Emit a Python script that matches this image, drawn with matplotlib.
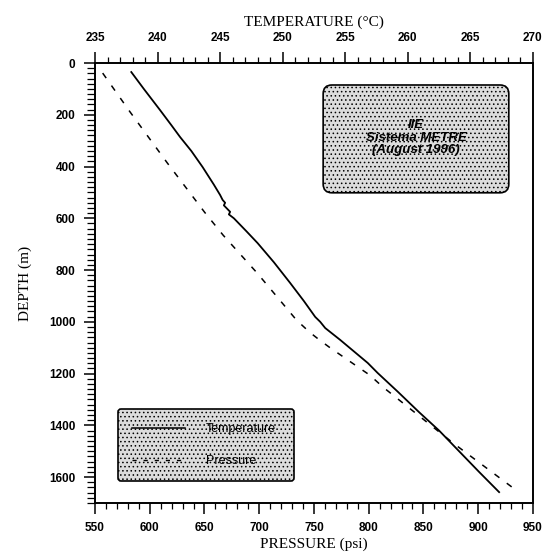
import matplotlib
matplotlib.use("Agg")
import matplotlib.pyplot as plt
from matplotlib.lines import Line2D
from matplotlib.patches import FancyBboxPatch
from matplotlib.ticker import MultipleLocator

# data (depth in m)
temp_depth = [35, 100, 182, 240, 286, 340, 402, 470, 510, 529, 540, 550, 560, 575,
              585, 600, 650, 696, 770, 850, 920, 981, 1000, 1024, 1070, 1159, 1198,
              1270, 1349, 1420, 1500, 1580, 1658]
temp_c = [237.9, 238.9, 240.2, 241.1, 241.8, 242.7, 243.6, 244.5, 245.0, 245.2, 245.4,
          245.3, 245.5, 245.8, 245.7, 246.1, 247.1, 248.0, 249.3, 250.6, 251.7, 252.6,
          253.0, 253.4, 254.6, 256.8, 257.6, 259.2, 260.9, 262.5, 264.1, 265.7, 267.3]

press_depth = [39, 189, 386, 576, 665, 811, 993, 1040, 1070, 1101, 1206, 1252, 1468, 1658]
press_psi = [557, 582, 616, 650, 667, 698, 734, 746, 755, 765, 801, 813, 877, 937]

plt.rcParams["hatch.linewidth"] = 0.6
plt.rcParams["hatch.color"] = "#555555"

label_font = {"family": "Liberation Serif", "size": 11}

fig = plt.figure(figsize=(5.46, 5.6), dpi=100)
ax = fig.add_axes([0.174, 0.1018, 0.802, 0.7857])
ax_t = ax.twiny()

# pressure on bottom axis
ax.plot(press_psi, press_depth, color="black", lw=1.1, linestyle=(0, (4, 6)))
ax.set_xlim(550, 950)
ax.set_ylim(1700, 0)
ax.xaxis.set_major_locator(MultipleLocator(50))
ax.xaxis.set_minor_locator(MultipleLocator(10))
ax.yaxis.set_major_locator(MultipleLocator(200))
ax.yaxis.set_minor_locator(MultipleLocator(20))

# temperature on top axis
ax_t.plot(temp_c, temp_depth, color="black", lw=1.3)
ax_t.set_xlim(235, 270)
ax_t.xaxis.set_major_locator(MultipleLocator(5))
ax_t.xaxis.set_minor_locator(MultipleLocator(1))

for a in (ax, ax_t):
    for s in a.spines.values():
        s.set_linewidth(1.2)
ax.tick_params(which="major", direction="out", length=8, width=1.1, pad=6)
ax.tick_params(which="minor", direction="out", length=4, width=0.9)
ax.tick_params(axis="y", which="minor", length=6)
ax_t.tick_params(which="major", direction="out", length=8, width=1.1, pad=6)
ax_t.tick_params(which="minor", direction="out", length=4, width=0.9)

for lab in ax.get_xticklabels() + ax.get_yticklabels() + ax_t.get_xticklabels():
    lab.set_fontfamily("Liberation Sans")
    lab.set_fontweight("bold")
    lab.set_fontsize(8.5)

ax.set_xlabel("PRESSURE (psi)", fontdict=label_font, labelpad=2)
ax.set_ylabel("DEPTH (m)", fontdict=label_font, labelpad=12)
ax_t.set_xlabel("TEMPERATURE (°C)", fontdict=label_font, labelpad=4)

# title box
box = FancyBboxPatch((0.521, 0.705), 0.424, 0.245, transform=ax.transAxes,
                     boxstyle="round,pad=0,rounding_size=0.02",
                     facecolor="#dcdcdc", edgecolor="black", lw=1.2, hatch="....",
                     zorder=3)
ax.add_patch(box)
ax.text(0.733, 0.83, "IIE\nSistema METRE\n(August 1996)", transform=ax.transAxes,
        ha="center", va="center", family="Liberation Sans", weight="bold",
        style="italic", fontsize=9.5, linespacing=1.05, zorder=4)

# legend
handles = [Line2D([], [], color="black", lw=1.1),
           Line2D([], [], color="black", lw=1.0, linestyle=(0, (3, 5)))]
leg = ax.legend(handles, ["Temperature", "Pressure"],
                loc="lower left", bbox_to_anchor=(0.039, 0.036, 0.429, 0.2),
                mode="expand", prop={"family": "Liberation Sans", "size": 9},
                handlelength=4.2, handletextpad=1.7, labelspacing=1.6,
                borderpad=1.1, fancybox=True, framealpha=1)
frame = leg.get_frame()
frame.set_facecolor("#dcdcdc")
frame.set_edgecolor("black")
frame.set_linewidth(1.2)
frame.set_hatch("....")
leg.set_zorder(5)

fig.savefig("out.png", dpi=100)
